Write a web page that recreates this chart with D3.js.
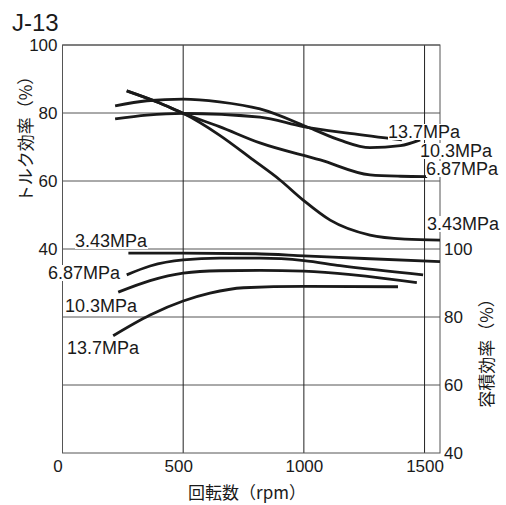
<!DOCTYPE html>
<html>
<head>
<meta charset="utf-8">
<script src="https://cdn.jsdelivr.net/npm/d3@7"></script>
<style>
  html, body { margin: 0; padding: 0; background: #fff; }
  svg { display: block; }
  text { font-family: "Liberation Sans", Arial, "Noto Sans CJK JP", sans-serif; fill: #1a1a1a; }
  .cjk { font-family: "Noto Sans CJK JP", "Liberation Sans", sans-serif; }
</style>
</head>
<body>
<svg id="chart" width="506" height="505"></svg>
<script>
// Axis ticks
const rpmTicks = [0, 500, 1000, 1500];
const torqueTicks = [40, 60, 80, 100];
const volumeTicks = [40, 60, 80, 100];

// Torque efficiency (%) vs speed (rpm), one curve per pressure
const torque343 = [[266, 86.5], [400, 83.0], [500, 79.9], [650, 73.5], [790, 66.2], [901, 60.3], [997, 54.4], [1109, 48.5], [1274, 44.1], [1420, 42.9], [1564, 42.6]];
const torque687 = [[266, 86.5], [400, 83.0], [500, 79.9], [650, 76.0], [818, 71.2], [1068, 66.2], [1274, 61.8], [1400, 61.4], [1511, 61.3]];
const torque103 = [[218, 82.1], [350, 83.6], [500, 84.1], [650, 83.3], [818, 81.2], [1025, 75.6], [1150, 72.0], [1274, 69.8], [1400, 70.4], [1482, 72.1]];
const torque137 = [[218, 78.3], [350, 79.4], [500, 79.9], [818, 78.8], [997, 76.0], [1190, 74.0], [1406, 72.1]];

// Volumetric efficiency (%) vs speed (rpm)
const volume343 = [[273, 98.8], [500, 98.8], [800, 98.6], [1000, 98.0], [1250, 97.2], [1564, 96.3]];
const volume687 = [[266, 92.4], [363, 95.0], [500, 96.8], [650, 97.3], [818, 97.3], [1000, 96.6], [1150, 95.1], [1494, 92.4]];
const volume103 = [[231, 87.3], [363, 90.7], [500, 92.9], [650, 93.6], [818, 93.7], [1000, 93.5], [1468, 90.1]];
const volume137 = [[210, 74.5], [363, 80.6], [500, 84.7], [611, 87.0], [750, 88.6], [1000, 89.0], [1390, 88.9]];

const svg = d3.select("#chart");
const plotL = 62.5, plotR = 440, plotT = 45, plotB = 453;

const x = d3.scaleLinear().domain([0, 1564]).range([plotL, plotR]);
// Left axis covers the upper half (40–100), right axis the lower half (40–100)
const yT = d3.scaleLinear().domain([-20, 100]).range([plotB, plotT]);
const yV = d3.scaleLinear().domain([40, 160]).range([plotB, plotT]);

const grid = svg.append("g");
// horizontal grid lines
const hLines = torqueTicks.map(d => yT(d)).concat(volumeTicks.slice(1, 3).map(d => yV(d)));
grid.selectAll("line.h").data(hLines).join("line")
  .attr("x1", plotL).attr("x2", plotR)
  .attr("y1", d => d).attr("y2", d => d)
  .attr("stroke", "#555").attr("stroke-width", 1);
// vertical grid lines
grid.selectAll("line.v").data(rpmTicks.slice(1)).join("line")
  .attr("x1", d => x(d)).attr("x2", d => x(d))
  .attr("y1", plotT).attr("y2", plotB)
  .attr("stroke", "#222").attr("stroke-width", 1);
// frame
grid.append("rect").attr("x", plotL).attr("y", plotT)
  .attr("width", plotR - plotL).attr("height", plotB - plotT)
  .attr("fill", "none").attr("stroke", "#555").attr("stroke-width", 1);

// Axes (text only, no tick marks)
const xAxis = svg.append("g").attr("transform", `translate(0,${plotB})`)
  .call(d3.axisBottom(x).tickValues(rpmTicks).tickFormat(d3.format("d")).tickSize(0).tickPadding(7));
const yAxisL = svg.append("g").attr("transform", `translate(${plotL},0)`)
  .call(d3.axisLeft(yT).tickValues(torqueTicks).tickSize(0).tickPadding(5));
const yAxisR = svg.append("g").attr("transform", `translate(${plotR},0)`)
  .call(d3.axisRight(yV).tickValues(volumeTicks).tickSize(0).tickPadding(4));
[xAxis, yAxisL, yAxisR].forEach(g => {
  g.select(".domain").remove();
  g.selectAll("text").attr("font-size", 17).attr("fill", "#1a1a1a")
    .attr("font-family", '"Liberation Sans", Arial, sans-serif');
});
// the two leftmost speed labels sit slightly left of their grid lines
xAxis.selectAll("text").attr("dx", d => (d < 1000 ? -5 : 0));

// Curves
const lineT = d3.line().x(d => x(d[0])).y(d => yT(d[1])).curve(d3.curveMonotoneX);
const lineV = d3.line().x(d => x(d[0])).y(d => yV(d[1])).curve(d3.curveMonotoneX);
const curves = svg.append("g").attr("fill", "none").attr("stroke", "#1a1a1a")
  .attr("stroke-width", 2.8).attr("stroke-linecap", "butt");
[torque343, torque687, torque103, torque137].forEach(s => curves.append("path").attr("d", lineT(s)));
[volume343, volume687, volume103, volume137].forEach(s => curves.append("path").attr("d", lineV(s)));

// Pressure labels on white boxes
const pressureLabels = [
  { t: "13.7MPa", x: 388, y: 138 },
  { t: "10.3MPa", x: 420, y: 157 },
  { t: "6.87MPa", x: 426, y: 175 },
  { t: "3.43MPa", x: 427, y: 230 },
  { t: "3.43MPa", x: 75, y: 247 },
  { t: "6.87MPa", x: 48, y: 279 },
  { t: "10.3MPa", x: 65, y: 312 },
  { t: "13.7MPa", x: 67, y: 354 }
];
const lab = svg.append("g");
pressureLabels.forEach(p => {
  const g = lab.append("g");
  const r = g.append("rect").attr("fill", "#fff");
  const t = g.append("text").attr("x", p.x).attr("y", p.y).attr("font-size", 18).text(p.t);
  const b = t.node().getBBox();
  r.attr("x", b.x).attr("y", b.y + 2).attr("width", b.width).attr("height", b.height - 4);
});

// Titles
svg.append("text").attr("x", 12).attr("y", 31).attr("font-size", 24).text("J-13");
svg.append("text").attr("class", "cjk").attr("x", 247).attr("y", 491)
  .attr("text-anchor", "middle").attr("dominant-baseline", "central")
  .attr("font-size", 17).text("回転数（rpm）");
svg.append("text").attr("class", "cjk")
  .attr("transform", "translate(24,135) rotate(-90)")
  .attr("text-anchor", "middle").attr("dominant-baseline", "central")
  .attr("font-size", 17).text("トルク効率（%）");
svg.append("text").attr("class", "cjk")
  .attr("transform", "translate(485,349) rotate(-90)")
  .attr("text-anchor", "middle").attr("dominant-baseline", "central")
  .attr("font-size", 17).text("容積効率（%）");
</script>
</body>
</html>
